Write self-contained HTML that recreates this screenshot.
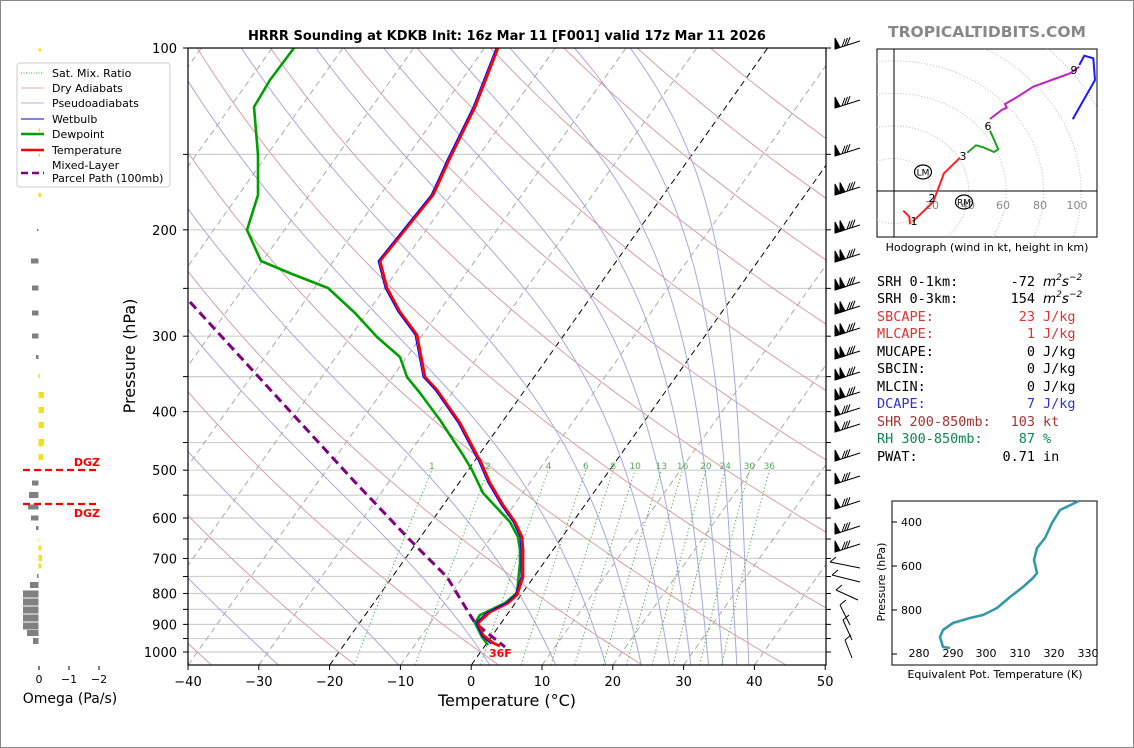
<!DOCTYPE html>
<html><head><meta charset="utf-8"><style>
html,body{margin:0;padding:0;background:#fff;}
svg{display:block;font-family:"DejaVu Sans","Liberation Sans",sans-serif;}
</style></head><body>
<svg id="s" width="1134" height="748" viewBox="0 0 1134 748" xmlns="http://www.w3.org/2000/svg">
<rect x="0.5" y="0.5" width="1133" height="747" fill="#fff" stroke="#888"/>
<defs><clipPath id="c"><rect x="188" y="48" width="638" height="617"/></clipPath></defs>
<g id="bg" clip-path="url(#c)"></g>
<g id="data" clip-path="url(#c)" fill="none" stroke-linejoin="round">
<polyline stroke="#800080" stroke-width="3" stroke-dasharray="9,5" points="190,302 353,480 410,540 447,577 475,623 505,647"/>
<polyline stroke="#00a000" stroke-width="2.6" points="294,48 270,80 254,107 258,155 258,195 247,230 261,261 292,274 328,288 355,313 377,337 400,357 407,377 420,393 440,420 463,455 472,470 483,493 497,508 510,522 518,537 520,550 520,563 517,593 505,603 480,615 475,623 482,637 488,645"/>
<polyline stroke="#ff0000" stroke-width="2.8" points="498,48 475,107 449,160 440,180 433,195 380,261 387,288 400,312 417,335 425,377 437,390 460,423 478,457 480,460 490,483 503,505 515,522 522,537 523,550 523,577 522,580 517,595 508,603 490,612 478,623 483,635 493,643 500,646"/>
<polyline stroke="#0000ff" stroke-width="1" points="496,48 473,107 447,160 438,180 431,195 378,261 385,288 398,312 415,335 423,377 435,390 458,423 476,457 478,460 488,483 501,505 513,522 520,537 521,550 521,577 520,580 515,595 506,603 486,613 476,623 482,636 491,644"/>
</g>
<text x="489" y="657" fill="#ff0000" font-weight="bold" font-size="11">36F</text>
<g id="ax"></g>
<text x="507" y="40" text-anchor="middle" font-weight="bold" font-size="13">HRRR Sounding at KDKB Init: 16z Mar 11 [F001] valid 17z Mar 11 2026</text>
<text x="987" y="37" text-anchor="middle" font-weight="bold" font-size="15.5" fill="#888">TROPICALTIDBITS.COM</text>
<text x="507" y="706" text-anchor="middle" font-size="16">Temperature (°C)</text>
<text transform="translate(135,356) rotate(-90)" text-anchor="middle" font-size="16">Pressure (hPa)</text>
<g font-size="11">
<rect x="17" y="63" width="153" height="124" rx="3" fill="#fff" stroke="#ccc"/>
<line x1="21" y1="73" x2="44" y2="73" stroke="#4a4" stroke-dasharray="1,1.5"/><text x="52" y="77">Sat. Mix. Ratio</text>
<line x1="21" y1="88" x2="44" y2="88" stroke="#d9a8a8"/><text x="52" y="92">Dry Adiabats</text>
<line x1="21" y1="103" x2="44" y2="103" stroke="#b0b0e0"/><text x="52" y="107">Pseudoadiabats</text>
<line x1="21" y1="119" x2="44" y2="119" stroke="#0000cc"/><text x="52" y="123">Wetbulb</text>
<line x1="21" y1="134" x2="44" y2="134" stroke="#00a000" stroke-width="2.6"/><text x="52" y="138">Dewpoint</text>
<line x1="21" y1="150" x2="44" y2="150" stroke="#ff0000" stroke-width="2.6"/><text x="52" y="154">Temperature</text>
<line x1="21" y1="173" x2="44" y2="173" stroke="#800080" stroke-width="2.6" stroke-dasharray="7,4"/><text x="52" y="169">Mixed-Layer</text><text x="52" y="182">Parcel Path (100mb)</text>
</g>
<g id="om"></g>
<g fill="#ff0000" font-weight="bold" font-size="11">
<line x1="23" y1="470" x2="99" y2="470" stroke="#ff0000" stroke-width="2.2" stroke-dasharray="7,4"/>
<line x1="23" y1="504" x2="99" y2="504" stroke="#ff0000" stroke-width="2.2" stroke-dasharray="7,4"/>
<text x="100" y="466" text-anchor="end">DGZ</text><text x="100" y="517" text-anchor="end">DGZ</text>
</g>
<g font-size="11" text-anchor="middle">
<line x1="39" y1="666" x2="39" y2="670" stroke="#000"/><line x1="69" y1="666" x2="69" y2="670" stroke="#000"/><line x1="99" y1="666" x2="99" y2="670" stroke="#000"/>
<text x="39" y="683">0</text><text x="69" y="683">−1</text><text x="99" y="683">−2</text>
</g>
<text x="70" y="703" text-anchor="middle" font-size="14">Omega (Pa/s)</text>
<g id="barbs" stroke="#000" fill="#000" stroke-width="1"></g>
<g id="hodo"></g>
<text x="987" y="251" text-anchor="middle" font-size="11">Hodograph (wind in kt, height in km)</text>
<g font-family="'DejaVu Sans Mono','Liberation Mono',monospace" font-size="13.5">
<text x="877" y="286">SRH 0-1km:</text><text x="1035" y="286" text-anchor="end">-72</text><text x="1043" y="286" font-style="italic" font-family="'DejaVu Sans',sans-serif">m<tspan font-size="9" dy="-6">2</tspan><tspan dy="6">s</tspan><tspan font-size="9" dy="-6">−2</tspan></text>
<text x="877" y="303">SRH 0-3km:</text><text x="1035" y="303" text-anchor="end">154</text><text x="1043" y="303" font-style="italic" font-family="'DejaVu Sans',sans-serif">m<tspan font-size="9" dy="-6">2</tspan><tspan dy="6">s</tspan><tspan font-size="9" dy="-6">−2</tspan></text>
<g fill="#dd3333"><text x="877" y="321">SBCAPE:</text><text x="1035" y="321" text-anchor="end">23</text><text x="1043" y="321">J/kg</text>
<text x="877" y="338">MLCAPE:</text><text x="1035" y="338" text-anchor="end">1</text><text x="1043" y="338">J/kg</text></g>
<text x="877" y="356">MUCAPE:</text><text x="1035" y="356" text-anchor="end">0</text><text x="1043" y="356">J/kg</text>
<text x="877" y="373">SBCIN:</text><text x="1035" y="373" text-anchor="end">0</text><text x="1043" y="373">J/kg</text>
<text x="877" y="391">MLCIN:</text><text x="1035" y="391" text-anchor="end">0</text><text x="1043" y="391">J/kg</text>
<g fill="#3333cc"><text x="877" y="408">DCAPE:</text><text x="1035" y="408" text-anchor="end">7</text><text x="1043" y="408">J/kg</text></g>
<g fill="#aa3333"><text x="877" y="426">SHR 200-850mb:</text><text x="1035" y="426" text-anchor="end">103</text><text x="1043" y="426">kt</text></g>
<g fill="#108850"><text x="877" y="443">RH 300-850mb:</text><text x="1035" y="443" text-anchor="end">87</text><text x="1043" y="443">%</text></g>
<text x="877" y="461">PWAT:</text><text x="1035" y="461" text-anchor="end">0.71</text><text x="1043" y="461">in</text>
</g>
<rect x="892" y="501" width="205" height="164" fill="none" stroke="#000"/>
<polyline fill="none" stroke="#3399aa" stroke-width="2.6" stroke-linejoin="round" points="1079,501 1060,510 1052,523 1045,538 1037,548 1034,560 1037,573 1033,578 1023,587 1010,597 997,608 983,615 970,618 953,623 943,630 940,637 943,647 950,648"/>
<g font-size="11">
<text x="922" y="526" text-anchor="end">400</text><text x="922" y="570" text-anchor="end">600</text><text x="922" y="614" text-anchor="end">800</text>
<line x1="892" y1="522" x2="897" y2="522" stroke="#000"/><line x1="892" y1="566" x2="897" y2="566" stroke="#000"/><line x1="892" y1="610" x2="897" y2="610" stroke="#000"/><line x1="892" y1="654" x2="897" y2="654" stroke="#000"/>
<g text-anchor="middle"><text x="919" y="657">280</text><text x="953" y="657">290</text><text x="986" y="657">300</text><text x="1020" y="657">310</text><text x="1054" y="657">320</text><text x="1088" y="657">330</text></g>
<text x="995" y="678" text-anchor="middle">Equivalent Pot. Temperature (K)</text>
<text transform="translate(885,582) rotate(-90)" text-anchor="middle">Pressure (hPa)</text>
</g>
</svg>
<script>
(function(){
var NS="http://www.w3.org/2000/svg";
function el(parent,tag,attrs,txt){var e=document.createElementNS(NS,tag);for(var k in attrs)e.setAttribute(k,attrs[k]);if(txt!==undefined)e.textContent=txt;document.getElementById(parent).appendChild(e);return e;}
function Y(p){return 48+604*Math.log10(p/100);}
function X(T,p){return 188+(T+40)*7.08+0.71*(665-Y(p));}
function poly(parent,pts,attrs){attrs.points=pts.map(function(q){return q[0].toFixed(1)+","+q[1].toFixed(1);}).join(" ");attrs.fill="none";return el(parent,"polyline",attrs);}
for(var p=100;p<=1000;p+=50){el("bg","line",{x1:188,x2:826,y1:Y(p),y2:Y(p),stroke:"#cfcfcf","stroke-width":1.2});}
for(var T=-130;T<=50;T+=10){var blk=(T==0||T==-20);el("bg","line",{x1:X(T,1050),y1:665,x2:X(T,100),y2:48,stroke:blk?"#000":"#aaa","stroke-width":1,"stroke-dasharray":"6,4"});}
for(var th=-40;th<=200;th+=20){var pts=[];for(var pp=1050;pp>=100;pp-=10){var Tk=(th+273.15)*Math.pow(pp/1000,0.2857);pts.push([X(Tk-273.15,pp),Y(pp)]);}poly("bg",pts,{stroke:"#d8a0a0","stroke-width":1});}
function dTdp(T,p){var Tc=T-273.15;var es=6.112*Math.exp(17.67*Tc/(Tc+243.5));var rs=0.622*es/(p-es);var Rd=287,cp=1005,Lv=2.5e6;return (Rd*T+Lv*rs)/(p*(cp+Lv*Lv*rs*0.622/(Rd*T*T)));}
var ms=[-27.3,-10.3,2.6,11.9,19,24,28,31,33.5,35.5,37.5,39.2];
ms.forEach(function(t0){var T=t0+273.15,p=1050,pts=[[X(t0,p),Y(p)]];while(p>100){var dp=-5;var k1=dTdp(T,p);var k2=dTdp(T+k1*dp/2,p+dp/2);T+=k2*dp;p+=dp;pts.push([X(T-273.15,p),Y(p)]);}poly("bg",pts,{stroke:"#a8a8e0","stroke-width":1});});
var ws=[1,2,4,6,8,10,13,16,20,24,30,36];
ws.forEach(function(w){var pts=[];for(var pp=1050;pp>=500;pp-=10){var e=w*pp/(622+w);var l=Math.log(e/6.112);var Td=243.5*l/(17.67-l);pts.push([X(Td,pp),Y(pp)]);}poly("bg",pts,{stroke:"#4a4","stroke-width":1,"stroke-dasharray":"1.2,2.5"});
var e=w*500/(622+w);var l=Math.log(e/6.112);var Td=243.5*l/(17.67-l);el("bg","text",{x:X(Td,500),y:Y(500)-1,"text-anchor":"middle","font-size":9,fill:"#5a5"},""+w);});
el("ax","rect",{x:188,y:48,width:638,height:617,fill:"none",stroke:"#000","stroke-width":1.2});
for(var T=-40;T<=50;T+=10){var x=188+(T+40)*7.08;el("ax","line",{x1:x,x2:x,y1:665,y2:670,stroke:"#000"});el("ax","text",{x:x,y:686,"text-anchor":"middle","font-size":13},(T<0?"\u2212":"")+Math.abs(T));}
for(var p=100;p<=1000;p+=50){var y=Y(p);el("ax","line",{x1:183,x2:188,y1:y,y2:y,stroke:"#000"});el("ax","line",{x1:826,x2:831,y1:y,y2:y,stroke:"#000"});if(p%100==0)el("ax","text",{x:177,y:y+5,"text-anchor":"end","font-size":13},""+p);}
var gray=[[483,32,5],[495,29,6],[507,28,5],[518,31,5],[528,36,4],[576,37,4],[585,30,6],[594,23,7],[602,23,7],[610,23,7],[618,23,7],[626,23,7],[633,27,6],[641,33,6],[261,31,5],[288,32,5],[313,32,5],[336,32,5],[357,36,4],[230,37,2]];
gray.forEach(function(b){el("om","rect",{x:b[1],y:b[0]-b[2]/2,width:38.5-b[1],height:b[2],fill:"#808080"});});
var yel=[[50,41,3],[130,40,3],[155,40,3],[195,41,4],[376,40,4],[395,44,6],[410,44,6],[425,44,6],[442,44,6],[457,43,6],[444,43,5],[540,39,4],[548,41,5],[558,42,6],[566,41,5]];
yel.forEach(function(b){el("om","rect",{x:38.5,y:b[0]-b[2]/2,width:b[1]-38.5,height:b[2],fill:"#f5e020"});});
var ups=[45,104,152,191,229,258,286,310,332,355,376,396,412,428,457,480,505,530,548];
ups.forEach(function(y,i){var x0=835,y0=y+4,x1=x0+25,y1=y0-8;el("barbs","line",{x1:x0,y1:y0,x2:x1,y2:y1});var nf=(i>2&&i<12)?2:1;for(var f=0;f<nf;f++){var fx=x0+f*5;el("barbs","polygon",{points:fx+","+(y0-11-f*1.5)+" "+fx+","+(y0-f*1.5)+" "+(fx+5)+","+(y0-1.6-f*1.5)});}for(var k=0;k<3;k++){var bx=x0+nf*5+2+k*2.5;var by=y0-(bx-x0)*0.32;el("barbs","line",{x1:bx,y1:by,x2:bx+3,y2:by-8});}});
var lows=[[830,562,860,568],[832,575,860,582],[836,590,858,600],[840,605,850,625],[843,620,852,640],[845,640,852,658]];
lows.forEach(function(l){el("barbs","line",{x1:l[0],y1:l[1],x2:l[2],y2:l[3]});el("barbs","line",{x1:l[0],y1:l[1],x2:l[0]+6,y2:l[1]-5});});
var d=document.createElementNS(NS,"clipPath");d.setAttribute("id","hc");var rr=document.createElementNS(NS,"rect");rr.setAttribute("x",877);rr.setAttribute("y",49);rr.setAttribute("width",220);rr.setAttribute("height",188);d.appendChild(rr);document.querySelector("defs").appendChild(d);
var ox=894,oy=191,s=1.87;
el("hodo","rect",{x:877,y:49,width:220,height:188,fill:"none",stroke:"#000"});
for(var r=20;r<=140;r+=20){el("hodo","ellipse",{cx:ox,cy:oy,rx:r*s,ry:r*s*0.87,fill:"none",stroke:"#bbb","stroke-dasharray":"1,2","clip-path":"url(#hc)"});}
el("hodo","line",{x1:877,x2:1097,y1:oy,y2:oy,stroke:"#000"});el("hodo","line",{x1:ox,x2:ox,y1:49,y2:237,stroke:"#000"});
[[20,932],[40,968],[60,1003],[80,1040],[100,1077]].forEach(function(a){el("hodo","text",{x:a[1],y:209,"text-anchor":"middle","font-size":11,fill:"#888"},""+a[0]);});
function hp(arr){return arr.map(function(q){return [870+q[0]/3,40+q[1]/3];});}
poly("hodo",hp([[100,512],[118,530],[120,553]]),{stroke:"#ff2020","stroke-width":2});
poly("hodo",hp([[128,545],[190,485],[222,400],[270,353]]),{stroke:"#ff2020","stroke-width":2});
poly("hodo",hp([[292,338],[318,316],[340,322],[372,336],[385,328],[360,272]]),{stroke:"#20a020","stroke-width":2});
poly("hodo",hp([[360,237],[395,210],[410,203],[405,192],[440,172],[490,140],[600,100],[628,80]]),{stroke:"#c020c0","stroke-width":2});
poly("hodo",hp([[628,75],[643,47],[670,55],[675,120],[608,238]]),{stroke:"#1a1aff","stroke-width":2});
[["1",914,225],["2",932,202],["3",963,160],["6",988,130],["9",1074,74]].forEach(function(a){el("hodo","text",{x:a[1],y:a[2],"text-anchor":"middle","font-size":11},a[0]);});
el("hodo","ellipse",{cx:923,cy:172,rx:8.5,ry:7,fill:"none",stroke:"#000","stroke-width":1.2});el("hodo","text",{x:923,y:175.5,"text-anchor":"middle","font-size":9},"LM");
el("hodo","ellipse",{cx:964,cy:202,rx:8.5,ry:7,fill:"none",stroke:"#000","stroke-width":1.2});el("hodo","text",{x:964,y:205.5,"text-anchor":"middle","font-size":9},"RM");
})();
</script>
</body></html>
